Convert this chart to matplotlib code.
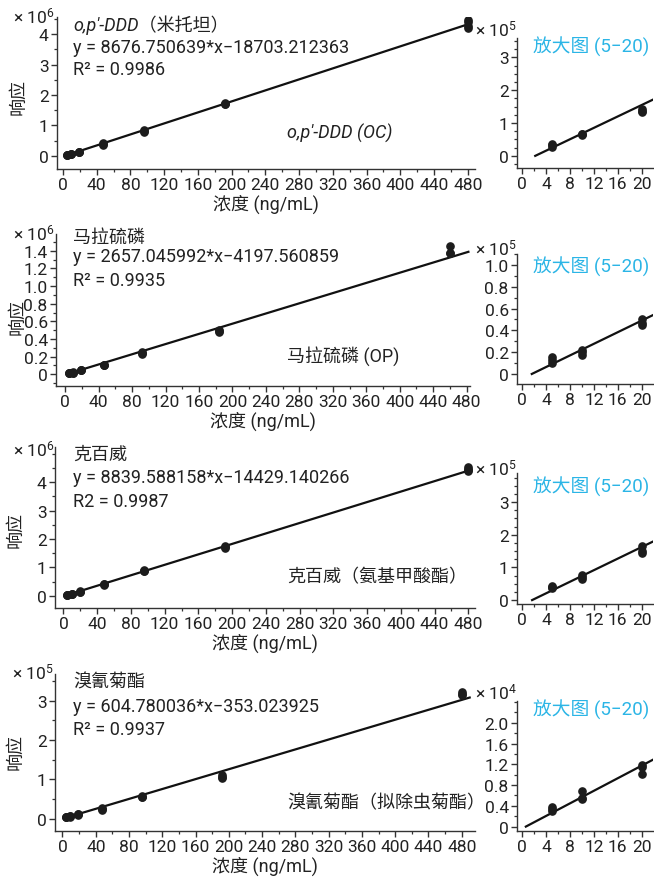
import numpy as np
import matplotlib
matplotlib.use('Agg')
import matplotlib.pyplot as plt
from matplotlib.ticker import MultipleLocator, FixedLocator, FuncFormatter

plt.rcParams['font.family'] = ['Roboto', 'Noto Sans CJK SC', 'DejaVu Sans']
plt.rcParams['mathtext.fontset'] = 'custom'
plt.rcParams['mathtext.rm'] = 'Roboto'
plt.rcParams['mathtext.it'] = 'Roboto:italic'
plt.rcParams['axes.unicode_minus'] = True

# ---------------- data ----------------
conc_levels = [5, 10, 20, 50, 100, 200, 500]   # ng/mL (nominal)

# replicate responses per concentration level
resp_ddd = [[28000, 33000, 35000], [64000, 66000, 68000], [135000, 138000, 142000],
            [360000, 400000, 420000], [790000, 820000, 860000],
            [1700000, 1720000, 1750000], [4200000, 4260000, 4380000, 4460000]]
resp_malathion = [[10000, 13000, 16000], [17000, 20000, 22000], [45000, 47000, 50000],
                  [100000, 105000, 110000], [230000, 240000, 250000],
                  [480000, 490000, 500000], [1370000, 1380000, 1450000]]
resp_carbofuran = [[37000, 40000, 42000], [65000, 72000, 78000], [145000, 150000, 166000],
                   [380000, 400000, 420000], [860000, 880000, 900000],
                   [1680000, 1720000, 1760000], [4380000, 4420000, 4480000, 4530000]]
resp_deltamethrin = [[3100, 3400, 3700], [5300, 5600, 6800], [10200, 11400, 11800],
                     [23000, 25000, 27000], [54000, 56000, 58000],
                     [104000, 107000, 110000], [314000, 318000, 321000]]

slopes = [8676.750639, 2657.045992, 8839.588158, 604.780036]
intercepts = [-18703.212363, -4197.560859, -14429.140266, -353.023925]

titles = ["o,p\u2032-DDD\uff08米托坦\uff09", "马拉硫磷", "克百威", "溴氰菊酯"]
equations = ["y = 8676.750639*x\u221218703.212363",
             "y = 2657.045992*x\u22124197.560859",
             "y = 8839.588158*x\u221214429.140266",
             "y = 604.780036*x\u2212353.023925"]
r2_texts = ["R\u00b2 = 0.9986", "R\u00b2 = 0.9935", "R2 = 0.9987", "R\u00b2 = 0.9937"]
class_labels = ["o,p\u2032-DDD (OC)", "马拉硫磷 (OP)", "克百威\uff08氨基甲酸酯\uff09",
                "溴氰菊酯\uff08拟除虫菊酯\uff09"]
inset_title = "放大图 (5\u221220)"
xlabel = "浓度 (ng/mL)"
ylabel = "响应"

main_exp = [6, 6, 6, 5]
inset_exp = [5, 5, 5, 4]
main_ystep = [1, 0.2, 1, 1]
main_ytop = [4, 1.4, 4, 3]
inset_ystep = [1, 0.2, 1, 0.4]
inset_ytop = [3, 1.0, 3, 2.0]
main_dec = [0, 1, 0, 0]
inset_dec = [0, 1, 0, 1]

# ---------------- layout / style ----------------
W, H = 654, 879
fig = plt.figure(figsize=(W / 100, H / 100), dpi=100)

def px_axes(l, t, r, b):
    return fig.add_axes([l / W, 1 - b / H, (r - l) / W, (b - t) / H])

main_boxes = [(57, 18, 475, 170), (56, 235, 470, 387), (55, 448, 475, 609), (55, 675, 475, 832)]
inset_boxes = [(517, 39, 653, 169), (517, 255, 653, 385), (517, 474, 653, 605), (517, 702, 653, 832)]
main_xlims = [(-7, 488.5), (-11, 484), (-10, 488), (-9, 496)]
main_ylims = [(-0.43, 4.56), (-0.133, 1.59), (-0.43, 5.24), (-0.316, 3.68)]
inset_ylims = [(-0.37, 3.59), (-0.092, 1.10), (-0.12, 3.89), (-0.085, 2.42)]
x_display_scale = [0.96, 0.92, 0.96, 0.96]
line_conc_hi = [500, 524, 502, 510]
main_ylab_y = [0.48, 0.46, 0.49, 0.51]
main_minor = [0.5, 0.1, 0.5, 0.5]
inset_minor = [0.25, 0.1, 0.25, 0.2]

title_y = [[25, 48, 70, 133], [238, 257, 281, 356], [455, 478, 502, 577], [683, 707, 730, 803]]
main_off_y = [16, 233, 449, 672]
inset_off_y = [29, 248, 468, 692]
inset_title_y = [47, 267, 487, 710]

TXT = '#222222'
DOT = '#1c1c1c'
BLUE = '#2bb5e6'
FS_TICK = 12.5
FS_TXT = 13

all_resp = [resp_ddd, resp_malathion, resp_carbofuran, resp_deltamethrin]


def fmt_factory(scale, dec):
    def f(v, pos):
        u = v / scale
        if abs(u) < 1e-9:
            return "0"
        return ("%.*f" % (dec, u)).replace('-', '\u2212')
    return f


def style_axes(ax):
    for s in ['top', 'right']:
        ax.spines[s].set_visible(False)
    for s in ['left', 'bottom']:
        ax.spines[s].set_color('#333333')
        ax.spines[s].set_linewidth(1.0)
    ax.tick_params(which='major', length=4, width=1, color='#333333',
                   labelsize=FS_TICK, labelcolor=TXT, pad=2)
    ax.tick_params(which='minor', length=2.5, width=0.9, color='#333333')


def y_ticks(ax, step, top, minor, scale, lim, dec):
    n = int(round(top / step))
    ax.yaxis.set_major_locator(FixedLocator([k * step * scale for k in range(n + 1)]))
    m_lo = int(np.ceil(lim[0] / minor))
    m_hi = int(np.floor(lim[1] / minor))
    ax.yaxis.set_minor_locator(FixedLocator([k * minor * scale for k in range(m_lo, m_hi + 1)]))
    ax.yaxis.set_major_formatter(FuncFormatter(fmt_factory(scale, dec)))


for i in range(4):
    resp = all_resp[i]
    a, b = slopes[i], intercepts[i]
    xs, ys = [], []
    for c, reps in zip(conc_levels, resp):
        for r in reps:
            xs.append(c)
            ys.append(r)
    xs = np.array(xs, dtype=float)
    ys = np.array(ys, dtype=float)

    # ---- main axes ----
    ax = px_axes(*main_boxes[i])
    style_axes(ax)
    sc = x_display_scale[i]
    lc = np.array([conc_levels[0], line_conc_hi[i]], dtype=float)
    ax.plot(lc * sc, a * lc + b, color='#111111', lw=1.6, zorder=2)
    ax.plot(xs * sc, ys, 'o', color=DOT, ms=5.2, zorder=3)
    mscale = 10.0 ** main_exp[i]
    ax.set_xlim(*main_xlims[i])
    ax.set_ylim(main_ylims[i][0] * mscale, main_ylims[i][1] * mscale)
    ax.xaxis.set_major_locator(MultipleLocator(40))
    ax.xaxis.set_minor_locator(MultipleLocator(20))
    y_ticks(ax, main_ystep[i], main_ytop[i], main_minor[i], mscale, main_ylims[i], main_dec[i])
    ax.set_xlabel(xlabel, fontsize=FS_TXT, color=TXT, labelpad=1)
    ax.set_ylabel(ylabel, fontsize=FS_TXT, color=TXT, va='center')
    ax.yaxis.set_label_coords(-0.093, main_ylab_y[i])

    fig.text(54 / W, 1 - main_off_y[i] / H, "\u00d7 10$^{%d}$" % main_exp[i],
             ha='right', va='center', fontsize=FS_TICK, color=TXT)

    ty = title_y[i]
    fig.text(73 / W, 1 - ty[0] / H, titles[i], ha='left', va='center', fontsize=FS_TXT,
             color=TXT, style='italic' if i == 0 else 'normal')
    fig.text(73 / W, 1 - ty[1] / H, equations[i], ha='left', va='center', fontsize=FS_TXT, color=TXT)
    fig.text(73 / W, 1 - ty[2] / H, r2_texts[i], ha='left', va='center', fontsize=FS_TXT, color=TXT)
    fig.text(287 / W, 1 - ty[3] / H, class_labels[i], ha='left', va='center', fontsize=FS_TXT,
             color=TXT, style='italic' if i == 0 else 'normal')

    # ---- inset axes ----
    ia = px_axes(*inset_boxes[i])
    style_axes(ia)
    sel = xs <= 20
    x0 = -b / a
    li = np.array([x0, 23.0])
    ia.plot(li, a * li + b, color='#111111', lw=1.6, zorder=2)
    ia.plot(xs[sel], ys[sel], 'o', color=DOT, ms=5.2, zorder=3)
    iscale = 10.0 ** inset_exp[i]
    ia.set_xlim(-0.9, 21.9)
    ia.set_ylim(inset_ylims[i][0] * iscale, inset_ylims[i][1] * iscale)
    ia.xaxis.set_major_locator(MultipleLocator(4))
    ia.xaxis.set_minor_locator(MultipleLocator(2))
    y_ticks(ia, inset_ystep[i], inset_ytop[i], inset_minor[i], iscale, inset_ylims[i], inset_dec[i])
    fig.text(517 / W, 1 - inset_off_y[i] / H, "\u00d7 10$^{%d}$" % inset_exp[i],
             ha='right', va='center', fontsize=FS_TICK, color=TXT)
    fig.text(533 / W, 1 - inset_title_y[i] / H, inset_title, ha='left', va='center',
             fontsize=13.5, color=BLUE)

fig.savefig('out.png', dpi=100)
